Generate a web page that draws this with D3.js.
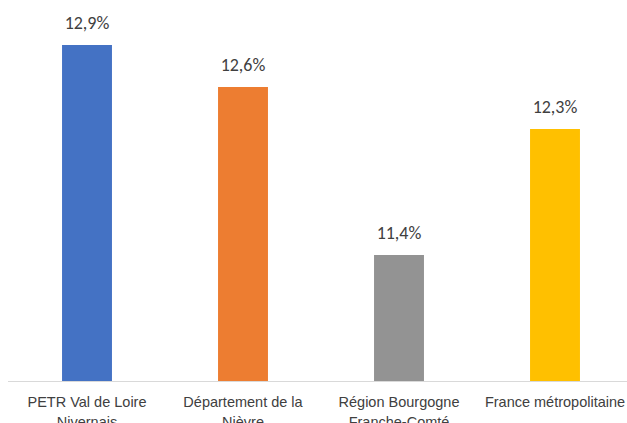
<!DOCTYPE html>
<html>
<head>
<meta charset="utf-8">
<script src="https://cdn.jsdelivr.net/npm/d3@7"></script>
<style>
  html, body { margin: 0; padding: 0; background: #fff; overflow: hidden; }
  svg { display: block; font-family: Carlito, Calibri, Lato, sans-serif; }
</style>
</head>
<body>
<div id="root"></div>
<script>
// data
const categories = [
  'PETR Val de Loire\nNivernais',
  'Département de la\nNièvre',
  'Région Bourgogne\nFranche-Comté',
  'France métropolitaine'
];
const values = [12.9, 12.6, 11.4, 12.3];
const colors = ['#4472C4', '#ED7D31', '#939393', '#FFC000'];
const yMin = 10.5;
const yMax = 13;

const width = 627;
const height = 423;
const baseY = 381;

const svg = d3.select('#root')
  .append('svg')
  .attr('width', width)
  .attr('height', height);

const xScale = d3.scaleBand()
  .domain(categories)
  .range([9, 633])
  .paddingInner(0.68)
  .paddingOuter(0.34);

const yScale = d3.scaleLinear()
  .domain([yMin, yMax])
  .range([baseY, 31]);

const fmt = (v) => d3.format('.1f')(v).replace('.', ',') + '%';

svg.selectAll('rect.bar')
  .data(values)
  .enter()
  .append('rect')
  .attr('class', 'bar')
  .attr('x', (d, i) => xScale(categories[i]))
  .attr('y', (d) => yScale(d))
  .attr('width', xScale.bandwidth())
  .attr('height', (d) => baseY - yScale(d))
  .attr('fill', (d, i) => colors[i]);

svg.selectAll('text.value')
  .data(values)
  .enter()
  .append('text')
  .attr('class', 'value')
  .attr('x', (d, i) => xScale(categories[i]) + xScale.bandwidth() / 2)
  .attr('y', (d) => yScale(d) - 16)
  .attr('text-anchor', 'middle')
  .attr('fill', '#404040')
  .style('font-size', '18px')
  .text(fmt);

// x axis: line only, labels under it
const xAxis = d3.axisBottom(xScale).tickSize(0).tickPadding(0).tickFormat('');
const xAxisG = svg.append('g')
  .attr('transform', `translate(0, ${baseY + 0.5})`)
  .call(xAxis);
xAxisG.select('.domain')
  .attr('d', `M8,0H${width}`)
  .attr('stroke', '#d9d9d9')
  .attr('stroke-width', 1);

xAxisG.selectAll('.tick').each(function (d) {
  const t = d3.select(this).append('text')
    .attr('text-anchor', 'middle')
    .attr('fill', '#404040')
    .style('font-size', '14.5px');
  d.split('\n').forEach((line, k) => {
    t.append('tspan')
      .attr('x', 0)
      .attr('y', 25.5 + k * 20)
      .text(line);
  });
});
</script>
</body>
</html>
